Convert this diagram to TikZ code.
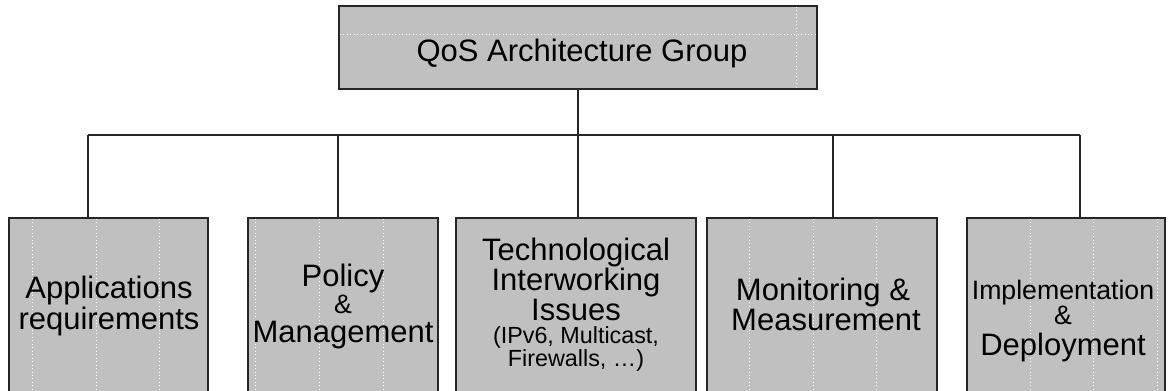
\documentclass[tikz,border=0pt]{standalone}
\usepackage{fontspec}
\setmainfont{Liberation Sans}
\definecolor{boxgray}{HTML}{C0C0C0}
\definecolor{edge}{HTML}{262626}
\begin{document}
\begin{tikzpicture}[x=0.75pt,y=-0.75pt,
  box/.style={draw=edge, line width=1.2pt, fill=boxgray, inner sep=0pt, outer sep=0pt},
  wire/.style={draw=edge, line width=1.1pt},
  gridline/.style={white, dotted, line width=0.6pt},
  line/.style={anchor=base, inner sep=0pt, font=\fontsize{23.25}{26}\selectfont},
  midline/.style={anchor=base, inner sep=0pt, font=\fontsize{20}{23}\selectfont},
  ampline/.style={anchor=base, inner sep=0pt, font=\fontsize{20}{23}\selectfont},
  smallline/.style={anchor=base, inner sep=0pt, font=\fontsize{17.5}{20}\selectfont}]
\useasboundingbox (0,0) rectangle (1171,391);
\clip (0,0) rectangle (1171,391);

% boxes
\node[box, minimum width=358.5pt, minimum height=62.25pt] (top) at (578,47.5) {};
\node[box, minimum width=149.25pt, minimum height=136.5pt] (b1) at (108.5,309) {};
\node[box, minimum width=142.5pt, minimum height=136.5pt] (b2) at (343,309) {};
\node[box, minimum width=180pt, minimum height=136.5pt] (b3) at (576,309) {};
\node[box, minimum width=172.5pt, minimum height=136.5pt] (b4) at (822,309) {};
\node[box, minimum width=148.5pt, minimum height=136.5pt] (b5) at (1066,309) {};

% faint dotted grid showing through the fills
\draw[gridline] (340,34) -- (816,34);
\draw[gridline] (796,7) -- (796,88);
\foreach \gx in {32,96,159,255,319,383,749,813,876,1030,1093,1157}
  \draw[gridline] (\gx,219) -- (\gx,391);

% tree connectors
\coordinate (j1) at (88,135);
\coordinate (j2) at (338,135);
\coordinate (j3) at (578,135);
\coordinate (j4) at (833,135);
\coordinate (j5) at (1080,135);
\draw[wire] (top.south) -- (j3);
\draw[wire] (j1) -- (j5);
\draw[wire] (j1) -- (j1 |- b1.north);
\draw[wire] (j2) -- (j2 |- b2.north);
\draw[wire] (j3) -- (j3 |- b3.north);
\draw[wire] (j4) -- (j4 |- b4.north);
\draw[wire] (j5) -- (j5 |- b5.north);

% labels
\node[line] (t0) at (582,62) {QoS Architecture Group};

\node[line] (t1a) at (109,299) {Applications};
\node[line] (t1b) at (109,330) {requirements};

\node[line] (t2a) at (343,287) {Policy};
\node[ampline] (t2b) at (343,314) {\&};
\node[line] (t2c) at (343,343) {Management};

\node[line] (t3a) at (576,261) {Technological};
\node[line] (t3b) at (576,291) {Interworking};
\node[line] (t3c) at (576,321) {Issues};
\node[smallline] (t3d) at (576,344) {(IPv6, Multicast,};
\node[smallline] (t3e) at (576,367) {Firewalls, \dots)};

\node[line] (t4a) at (823,301) {Monitoring \&};
\node[line] (t4b) at (826,331) {Measurement};

\node[midline] (t5a) at (1063,300) {Implementation};
\node[ampline] (t5b) at (1063,325) {\&};
\node[line] (t5c) at (1063,356) {Deployment};
\end{tikzpicture}
\end{document}
